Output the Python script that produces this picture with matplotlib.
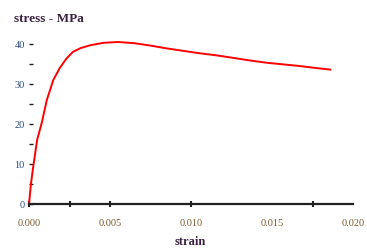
import matplotlib.pyplot as plt

# stress-strain curve
strain = [0, 0.00012, 0.00025, 0.0005, 0.0008, 0.0011, 0.0015, 0.0019, 0.0023,
          0.0027, 0.0032, 0.0038, 0.0046, 0.0055, 0.0065, 0.0075, 0.0085, 0.0095,
          0.0105, 0.0115, 0.0125, 0.0136, 0.0147, 0.0157, 0.0167, 0.0177, 0.0186]
stress = [0, 5, 9, 16, 20.5, 26, 31, 34, 36.3, 38, 39, 39.7, 40.3, 40.5, 40.2,
          39.6, 38.9, 38.3, 37.7, 37.2, 36.6, 35.9, 35.3, 34.9, 34.5, 34.0, 33.6]

x_ticks = [0, 0.005, 0.010, 0.015, 0.020]
x_labels = ['0.000', '0.005', '0.010', '0.015', '0.020']
x_extra_marks = [0.0025, 0.0175]
y_ticks = [0, 10, 20, 30, 40]

plt.rcParams['font.family'] = ['Liberation Serif', 'DejaVu Serif']

fig = plt.figure(figsize=(3.67, 2.5), dpi=100)
ax = fig.add_axes([29 / 367, 46 / 250, 324 / 367, 180 / 250])

ax.plot(strain, stress, color='#ff0000', lw=1.4, clip_on=False)
ax.set_xlim(0, 0.020)
ax.set_ylim(0, 45)

for s in ['top', 'right', 'left']:
    ax.spines[s].set_visible(False)
ax.spines['bottom'].set_linewidth(1.6)
ax.spines['bottom'].set_color('#222222')

ax.set_xticks(x_ticks)
ax.set_xticklabels(x_labels)
ax.set_xticks(x_extra_marks, minor=True)
ax.tick_params(axis='x', which='both', direction='inout', length=5, width=1.5,
               color='#222222', pad=8, labelsize=7.5, labelcolor='#7a5a30')
# no marks under 0.015 and 0.020 in the reference
for t in ax.xaxis.get_major_ticks()[3:]:
    t.tick1line.set_visible(False)

ax.set_yticks(y_ticks)
ax.set_yticks([5, 15, 25, 35], minor=True)
ax.tick_params(axis='y', which='both', direction='in', length=3, width=1,
               color='#222222', pad=3, labelsize=7.5, labelcolor='#2a4a80')

fig.text(14 / 367, 1 - 19 / 250, 'stress - MPa', fontsize=9.5, fontweight='bold',
         color='#3a2040', va='center', ha='left')
fig.text(190 / 367, 1 - 242 / 250, 'strain', fontsize=9, fontweight='bold',
         color='#3a2040', va='center', ha='center')

fig.savefig('out.png', dpi=100)
